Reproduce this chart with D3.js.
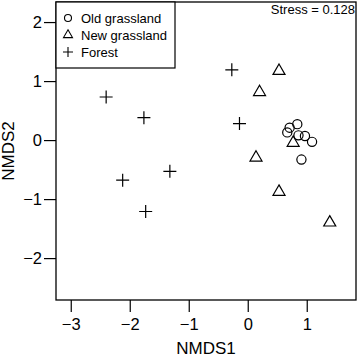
<!DOCTYPE html>
<html><head><meta charset="utf-8">
<script src="https://cdn.jsdelivr.net/npm/d3@7"></script>
<style>body{margin:0;background:#fff}svg{display:block}text{font-family:"Liberation Sans",Arial,sans-serif}</style>
</head><body>
<script>
const oldGrassland = [[0.84,0.27],[0.71,0.21],[0.67,0.13],[0.86,0.08],[0.97,0.07],[1.09,-0.03],[0.91,-0.33]];
const newGrassland = [[0.53,1.19],[0.20,0.83],[0.77,-0.03],[0.14,-0.28],[0.53,-0.86],[1.39,-1.38]];
const forest = [[-0.27,1.19],[-0.14,0.28],[-2.40,0.73],[-1.76,0.38],[-1.32,-0.53],[-2.12,-0.68],[-1.73,-1.21]];
const xTicks = [-3,-2,-1,0,1];
const yTicks = [-2,-1,0,1,2];
const legendLabels = ["Old grassland","New grassland","Forest"];
const stressText = "Stress = 0.128";

const W=357,H=357, L=56,R=356,T=2,B=300;
const svg=d3.select("body").append("svg").attr("width",W).attr("height",H);
const x=d3.scaleLinear().domain([-3.25,1.835]).range([L,R]);
const y=d3.scaleLinear().domain([-2.71,2.34]).range([B,T]);
const fmt=d=>String(d).replace("-","\u2212");

const gx=svg.append("g").attr("transform",`translate(0,${B})`)
 .call(d3.axisBottom(x).tickValues(xTicks).tickSize(12).tickPadding(6).tickFormat(fmt));
const gy=svg.append("g").attr("transform",`translate(${L},0)`)
 .call(d3.axisLeft(y).tickValues(yTicks).tickSize(12).tickPadding(2).tickFormat(fmt));
[gx,gy].forEach(g=>{g.select(".domain").remove();g.selectAll("line").attr("stroke","#000").attr("stroke-width",1.2);
 g.selectAll("text").attr("font-size",16.5).attr("fill","#000").attr("font-family","Liberation Sans, Arial, sans-serif");});

svg.append("rect").attr("x",L).attr("y",T).attr("width",R-L).attr("height",B-T)
 .attr("fill","none").attr("stroke","#000").attr("stroke-width",1.3);

svg.append("text").attr("x",(L+R)/2).attr("y",354).attr("text-anchor","middle").attr("font-size",17).text("NMDS1");
svg.append("text").attr("transform",`translate(14,${(T+B)/2}) rotate(-90)`).attr("text-anchor","middle").attr("font-size",17).text("NMDS2");

svg.append("text").attr("x",R-1).attr("y",14).attr("text-anchor","end").attr("font-size",13).text(stressText);

const tri=(cx,cy,s)=>{const h=s*Math.sqrt(3)/2;return `M${cx},${cy-h*2/3}L${cx+s/2},${cy+h/3}L${cx-s/2},${cy+h/3}Z`;};
const plus=(cx,cy,s)=>`M${cx-s/2},${cy}H${cx+s/2}M${cx},${cy-s/2}V${cy+s/2}`;

const pts=svg.append("g").attr("fill","none").attr("stroke","#000").attr("stroke-width",1.2);
pts.selectAll(".c").data(oldGrassland).join("circle").attr("cx",d=>x(d[0])).attr("cy",d=>y(d[1])).attr("r",4.6);
pts.selectAll(".t").data(newGrassland).join("path").attr("d",d=>tri(x(d[0]),y(d[1])+1,12));
pts.selectAll(".p").data(forest).join("path").attr("d",d=>plus(x(d[0]),y(d[1]),13));

// legend
svg.append("rect").attr("x",L).attr("y",T).attr("width",119).attr("height",66).attr("fill","#fff").attr("stroke","#000").attr("stroke-width",1.2);
const ly=[18,35,52];
const lg=svg.append("g");
lg.append("circle").attr("cx",68).attr("cy",ly[0]).attr("r",3.5).attr("fill","none").attr("stroke","#000").attr("stroke-width",1.1);
lg.append("path").attr("d",tri(68,ly[1],9)).attr("fill","none").attr("stroke","#000").attr("stroke-width",1.1);
lg.append("path").attr("d",plus(68,ly[2],10)).attr("fill","none").attr("stroke","#000").attr("stroke-width",1.1);
lg.selectAll("text").data(legendLabels).join("text").attr("x",81).attr("y",(d,i)=>ly[i]+5).attr("font-size",13).text(d=>d);
</script>
</body></html>
